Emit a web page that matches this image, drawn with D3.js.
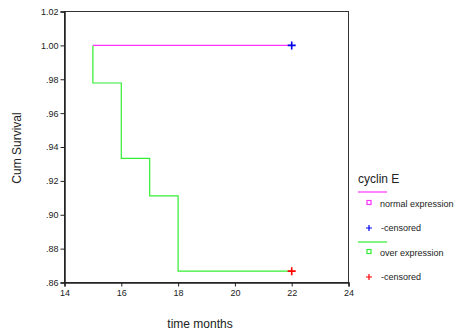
<!DOCTYPE html>
<html>
<head>
<meta charset="utf-8">
<script src="https://cdn.jsdelivr.net/npm/d3@7"></script>
<style>
  body { margin: 0; background: #fff; }
  text { font-family: "Liberation Sans", Arial, sans-serif; fill: #222; }
</style>
</head>
<body>
<div id="chart"></div>
<script>
// Survival steps
let normalTimes = [15, 22];
let normalSurv = [1.0, 1.0];
let overTimes = [15, 15, 16, 17, 18, 22];
let overSurv = [1.0, 0.9778, 0.9333, 0.9111, 0.8667, 0.8667];
let censorNormal = [{ t: 22, s: 1.0 }];
let censorOver = [{ t: 22, s: 0.8667 }];
let xTicks = [14, 16, 18, 20, 22, 24];
let yTicks = [0.86, 0.88, 0.90, 0.92, 0.94, 0.96, 0.98, 1.00, 1.02];

let width = 458, height = 331;
let svg = d3.select("#chart").append("svg")
  .attr("width", width)
  .attr("height", height);

let x = d3.scaleLinear().domain([14, 24]).range([64.5, 348.5]);
let y = d3.scaleLinear().domain([0.86, 1.02]).range([282.5, 11.5]);

// plot frame
svg.append("rect")
  .attr("x", x(14)).attr("y", y(1.02))
  .attr("width", x(24) - x(14)).attr("height", y(0.86) - y(1.02))
  .attr("fill", "none").attr("stroke", "#333").attr("stroke-width", 1);

// y labels: 1.00 style, drop leading zero below 1
let yFmt = function (d) {
  return d >= 1 ? d.toFixed(2) : d.toFixed(2).replace(/^0/, "");
};

let yAxis = svg.append("g")
  .attr("transform", "translate(" + x(14) + ",0)")
  .call(d3.axisLeft(y).tickValues(yTicks).tickFormat(yFmt).tickSize(4).tickPadding(2));
let xAxis = svg.append("g")
  .attr("transform", "translate(0," + y(0.86) + ")")
  .call(d3.axisBottom(x).tickValues(xTicks).tickFormat(d3.format("d")).tickSize(4).tickPadding(3));

[yAxis, xAxis].forEach(function (a) {
  a.select(".domain").attr("stroke", "#222").attr("stroke-width", 1.5);
  a.selectAll(".tick line").attr("stroke", "#222");
  a.selectAll("text").style("font-size", "9px").attr("fill", "#222");
});

// step lines
let line = d3.line()
  .x(function (d) { return x(d[0]); })
  .y(function (d) { return y(d[1]); })
  .curve(d3.curveStepAfter);

svg.append("path")
  .datum(overTimes.map(function (t, i) { return [t, overSurv[i]]; }))
  .attr("d", line)
  .attr("fill", "none").attr("stroke", "#33ee33").attr("stroke-width", 1.2);

svg.append("path")
  .datum(normalTimes.map(function (t, i) { return [t, normalSurv[i]]; }))
  .attr("d", line)
  .attr("fill", "none").attr("stroke", "#ff33ff").attr("stroke-width", 1.2);

// censor marks
function plus(g, cx, cy, color) {
  g.append("path")
    .attr("d", "M" + (cx - 4) + "," + cy + "H" + (cx + 4) + "M" + cx + "," + (cy - 4) + "V" + (cy + 4))
    .attr("stroke", color).attr("stroke-width", 1.6);
}
censorNormal.forEach(function (d) { plus(svg, x(d.t), y(d.s), "#0000ee"); });
censorOver.forEach(function (d) { plus(svg, x(d.t), y(d.s), "#ff0000"); });

// axis titles
svg.append("text")
  .attr("transform", "translate(21,148) rotate(-90)")
  .attr("text-anchor", "middle")
  .style("font-size", "12px")
  .text("Cum Survival");
svg.append("text")
  .attr("x", 200).attr("y", 328)
  .attr("text-anchor", "middle")
  .style("font-size", "12px")
  .text("time months");

// legend
let leg = svg.append("g");
leg.append("text").attr("x", 358).attr("y", 183).style("font-size", "12px").text("cyclin E");

let legendItems = [
  { kind: "line", color: "#ff33ff", y: 192 },
  { kind: "square", color: "#ff33ff", y: 204, label: "normal expression" },
  { kind: "plus", color: "#0000ee", y: 228, label: "-censored" },
  { kind: "line", color: "#33ee33", y: 242 },
  { kind: "square", color: "#33ee33", y: 253, label: "over expression" },
  { kind: "plus", color: "#ff0000", y: 277, label: "-censored" }
];
legendItems.forEach(function (d) {
  if (d.kind === "line") {
    leg.append("line").attr("x1", 358).attr("x2", 387).attr("y1", d.y).attr("y2", d.y)
      .attr("stroke", d.color).attr("stroke-width", 1.2);
  } else if (d.kind === "square") {
    leg.append("rect").attr("x", 367).attr("y", d.y - 3.5).attr("width", 4).attr("height", 4)
      .attr("fill", "none").attr("stroke", d.color).attr("stroke-width", 1.2);
  } else {
    leg.append("path")
      .attr("d", "M" + 366 + "," + d.y + "H" + 372 + "M" + 369 + "," + (d.y - 3) + "V" + (d.y + 3))
      .attr("stroke", d.color).attr("stroke-width", 1.2);
  }
  if (d.label) {
    leg.append("text").attr("x", d.kind === "plus" ? 381 : 380).attr("y", d.y + 3)
      .style("font-size", "9px").text(d.label);
  }
});
</script>
</body>
</html>
